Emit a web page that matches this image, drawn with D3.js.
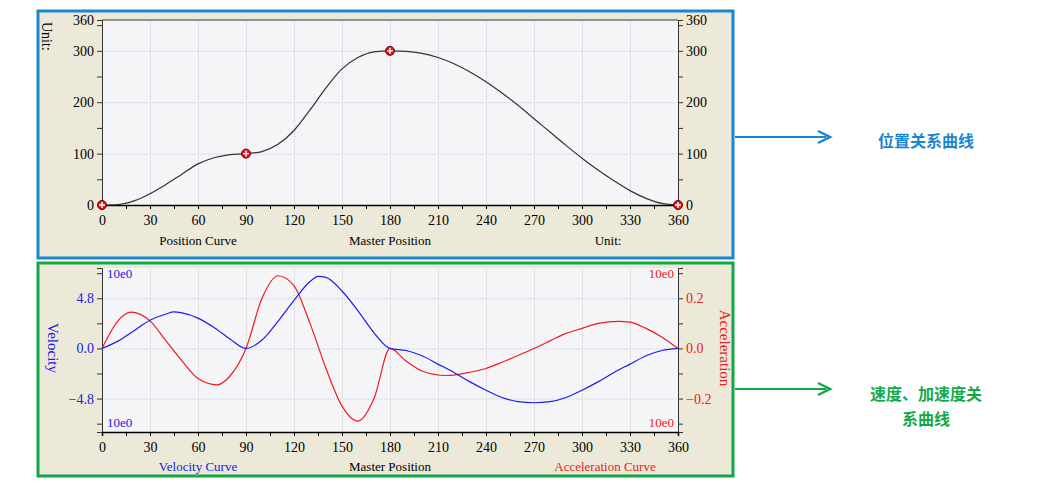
<!DOCTYPE html>
<html><head><meta charset="utf-8">
<script src="https://cdn.jsdelivr.net/npm/d3@7"></script>
<style>
body{margin:0;background:#fff;}
svg text{font-family:"Liberation Serif","DejaVu Serif",serif !important;font-size:13px;}
svg text.cjk{font-family:"Noto Sans CJK SC",sans-serif !important;font-size:16px;font-weight:bold;}
.grid line{stroke:#c8cfe0;stroke-dasharray:1,1;}
.grid .domain{display:none;}
</style></head><body>
<svg id="c" width="1046" height="490"></svg>
<script>
// master position (deg) and curve values
var posX = [0,10,20,30,40,50,60,70,80,90,100,110,120,130,140,150,160,170,180,190,200,210,220,230,240,250,260,270,280,290,300,310,320,330,340,350,360];
var posY = [0,1,8,22,40,60,80,92,98,100,104,118,145,185,228,265,287,298,300,299,295,287,275,259,240,218,194,168,142,116,91,68,47,28,13,3,0];
var keyPts = [[0,0],[90,100],[180,300],[360,0]];

var velX = [0,10,20,30,40,45,50,60,70,80,90,100,110,120,130,135,140,150,160,170,180,190,200,210,220,230,240,250,260,270,280,290,300,310,320,330,340,350,360];
var velY = [0,0.7,1.7,2.7,3.3,3.5,3.4,2.9,2.0,0.9,0,0.8,2.6,4.6,6.4,6.9,6.8,5.5,3.6,1.5,0,-0.2,-0.7,-1.5,-2.3,-3.2,-4.0,-4.7,-5.1,-5.2,-5.1,-4.7,-4.0,-3.2,-2.3,-1.5,-0.7,-0.2,0];

var accX = [0,10,18,30,40,50,60,72,80,90,100,110,120,130,140,150,160,170,180,190,200,215,230,240,250,260,270,280,290,300,310,323,330,340,350,360];
var accY = [0,0.11,0.145,0.11,0.03,-0.05,-0.12,-0.145,-0.11,0,0.2,0.29,0.25,0.1,-0.08,-0.23,-0.29,-0.2,0,-0.05,-0.09,-0.108,-0.095,-0.08,-0.055,-0.028,0,0.03,0.06,0.08,0.1,0.108,0.105,0.08,0.045,0];

var xTicks = d3.range(0, 361, 30);
var posTicks = [0,100,200,300,360];
var velTicks = [-4.8,0,4.8];
var accTicks = [-0.2,0,0.2];

var svg = d3.select("#c");
var x = d3.scaleLinear().domain([0,360]).range([102,678]);

function panel(y0, y1, border){
  svg.append("rect").attr("x",38).attr("y",y0).attr("width",695).attr("height",y1-y0)
    .attr("fill","#ece9d8").attr("stroke",border).attr("stroke-width",3);
}
panel(11,258,"#1a86d0");
panel(263,476,"#12a84a");

// ---- top: position
var yP = d3.scaleLinear().domain([0,360]).range([205,20]);
svg.append("rect").attr("x",102).attr("y",20).attr("width",576).attr("height",185).attr("fill","#f5f5f7");
svg.append("g").attr("class","grid").attr("transform","translate(0,205)")
  .call(d3.axisBottom(x).tickValues(xTicks).tickSize(-185).tickFormat(""));
svg.append("g").attr("class","grid").attr("transform","translate(102,0)")
  .call(d3.axisLeft(yP).tickValues([100,200,300]).tickSize(-576).tickFormat(""));
svg.append("line").attr("x1",102).attr("x2",678).attr("y1",20).attr("y2",20).attr("stroke","#333");

function xAxis(y){
  var g = svg.append("g").attr("transform","translate(0,"+y+")")
    .call(d3.axisBottom(x).tickValues(d3.range(0,361,15)).tickSize(4)
      .tickFormat(function(d){return d%30==0?d:"";}));
  g.selectAll("text").attr("dy","0.9em").attr("fill","#000").style("font-size","14px");
  g.selectAll("path,line").attr("stroke","#000");
  g.select(".domain").attr("stroke-width",1.5);
}
xAxis(205);

function yAxis(scale, side, ticks, minor, color, fmt){
  var ax = (side=="left"? d3.axisLeft(scale): d3.axisRight(scale)).tickValues(minor).tickSize(5)
    .tickFormat(function(d){ return ticks.some(function(t){return Math.abs(t-d)<1e-9;}) ? fmt(d) : ""; });
  var g = svg.append("g").attr("transform","translate("+(side=="left"?102:678)+",0)").call(ax);
  g.selectAll("text").attr("fill",color).style("font-size","14px");
  g.selectAll("path,line").attr("stroke","#333");
}
var posMinor = d3.range(0,361,50).concat([360]);
yAxis(yP,"left",posTicks,posMinor,"#000",d3.format("d"));
yAxis(yP,"right",posTicks,posMinor,"#000",d3.format("d"));

var posData = posX.map(function(v,i){return [v,posY[i]];});
svg.append("path").datum(posData).attr("fill","none").attr("stroke","#333").attr("stroke-width",1.2)
  .attr("d", d3.line().x(function(d){return x(d[0]);}).y(function(d){return yP(d[1]);}).curve(d3.curveMonotoneX));
var kp = svg.append("g").selectAll("g").data(keyPts).enter().append("g")
  .attr("transform",function(d){return "translate("+x(d[0])+","+yP(d[1])+")";});
kp.append("circle").attr("r",4.5).attr("fill","#e0151b").attr("stroke","#6a0000");
kp.append("path").attr("d","M-3,0H3M0,-3V3").attr("stroke","#fff").attr("stroke-width",1.4);

svg.append("text").attr("transform","translate(42,22) rotate(90)").attr("fill","#000").style("font-size","14px").text("Unit:");
svg.append("text").attr("x",198).attr("y",245).attr("text-anchor","middle").text("Position Curve");
svg.append("text").attr("x",390).attr("y",245).attr("text-anchor","middle").text("Master Position");
svg.append("text").attr("x",608).attr("y",245).attr("text-anchor","middle").text("Unit:");

// ---- bottom: velocity / acceleration
var yV = d3.scaleLinear().domain([-8.0,7.7]).range([432,268]);
var yA = d3.scaleLinear().domain([-8.0/24,7.7/24]).range([432,268]);
svg.append("rect").attr("x",102).attr("y",268).attr("width",576).attr("height",164).attr("fill","#f5f5f7");
svg.append("g").attr("class","grid").attr("transform","translate(0,432)")
  .call(d3.axisBottom(x).tickValues(xTicks).tickSize(-164).tickFormat(""));
svg.append("g").attr("class","grid").attr("transform","translate(102,0)")
  .call(d3.axisLeft(yV).tickValues(velTicks).tickSize(-576).tickFormat(""));
xAxis(432);
yAxis(yV,"left",velTicks,[-7.2,-4.8,-2.4,0,2.4,4.8,7.2],"#2020e0",d3.format(".1f"));
yAxis(yA,"right",accTicks,[-0.3,-0.2,-0.1,0,0.1,0.2,0.3],"#e82020",d3.format(".1f"));

var accData = accX.map(function(v,i){return [v,accY[i]];});
var velData = velX.map(function(v,i){return [v,velY[i]];});
svg.append("path").datum(accData).attr("fill","none").attr("stroke","#ee1c24").attr("stroke-width",1.2)
  .attr("d", d3.line().x(function(d){return x(d[0]);}).y(function(d){return yA(d[1]);}).curve(d3.curveMonotoneX));
svg.append("path").datum(velData).attr("fill","none").attr("stroke","#1c1cee").attr("stroke-width",1.2)
  .attr("d", d3.line().x(function(d){return x(d[0]);}).y(function(d){return yV(d[1]);}).curve(d3.curveMonotoneX));

svg.append("text").attr("x",107).attr("y",278).attr("fill","#2020e0").text("10e0");
svg.append("text").attr("x",107).attr("y",427).attr("fill","#2020e0").text("10e0");
svg.append("text").attr("x",674).attr("y",278).attr("text-anchor","end").attr("fill","#e82020").text("10e0");
svg.append("text").attr("x",674).attr("y",427).attr("text-anchor","end").attr("fill","#e82020").text("10e0");
svg.append("text").attr("transform","translate(48,348) rotate(90)").attr("text-anchor","middle").attr("fill","#2020e0").style("font-size","15px").text("Velocity");
svg.append("text").attr("transform","translate(720,348) rotate(90)").attr("text-anchor","middle").attr("fill","#e82020").style("font-size","15px").text("Acceleration");
svg.append("text").attr("x",198).attr("y",471).attr("text-anchor","middle").attr("fill","#2020e0").text("Velocity Curve");
svg.append("text").attr("x",390).attr("y",471).attr("text-anchor","middle").text("Master Position");
svg.append("text").attr("x",605).attr("y",471).attr("text-anchor","middle").attr("fill","#e82020").text("Acceleration Curve");

// ---- annotations
function arrow(y, color){
  svg.append("line").attr("x1",735).attr("x2",826).attr("y1",y).attr("y2",y).attr("stroke",color).attr("stroke-width",2);
  svg.append("path").attr("d","M818,"+(y-6)+"L830,"+y+"L818,"+(y+6)).attr("fill","none").attr("stroke",color).attr("stroke-width",2.5);
}
arrow(137,"#1a86d0");
arrow(389,"#12a84a");
svg.append("text").attr("class","cjk").attr("x",926).attr("y",147).attr("text-anchor","middle").attr("fill","#1a86d0").text("位置关系曲线");
svg.append("text").attr("class","cjk").attr("x",926).attr("y",400).attr("text-anchor","middle").attr("fill","#12a84a").text("速度、加速度关");
svg.append("text").attr("class","cjk").attr("x",926).attr("y",425).attr("text-anchor","middle").attr("fill","#12a84a").text("系曲线");
</script></body></html>
